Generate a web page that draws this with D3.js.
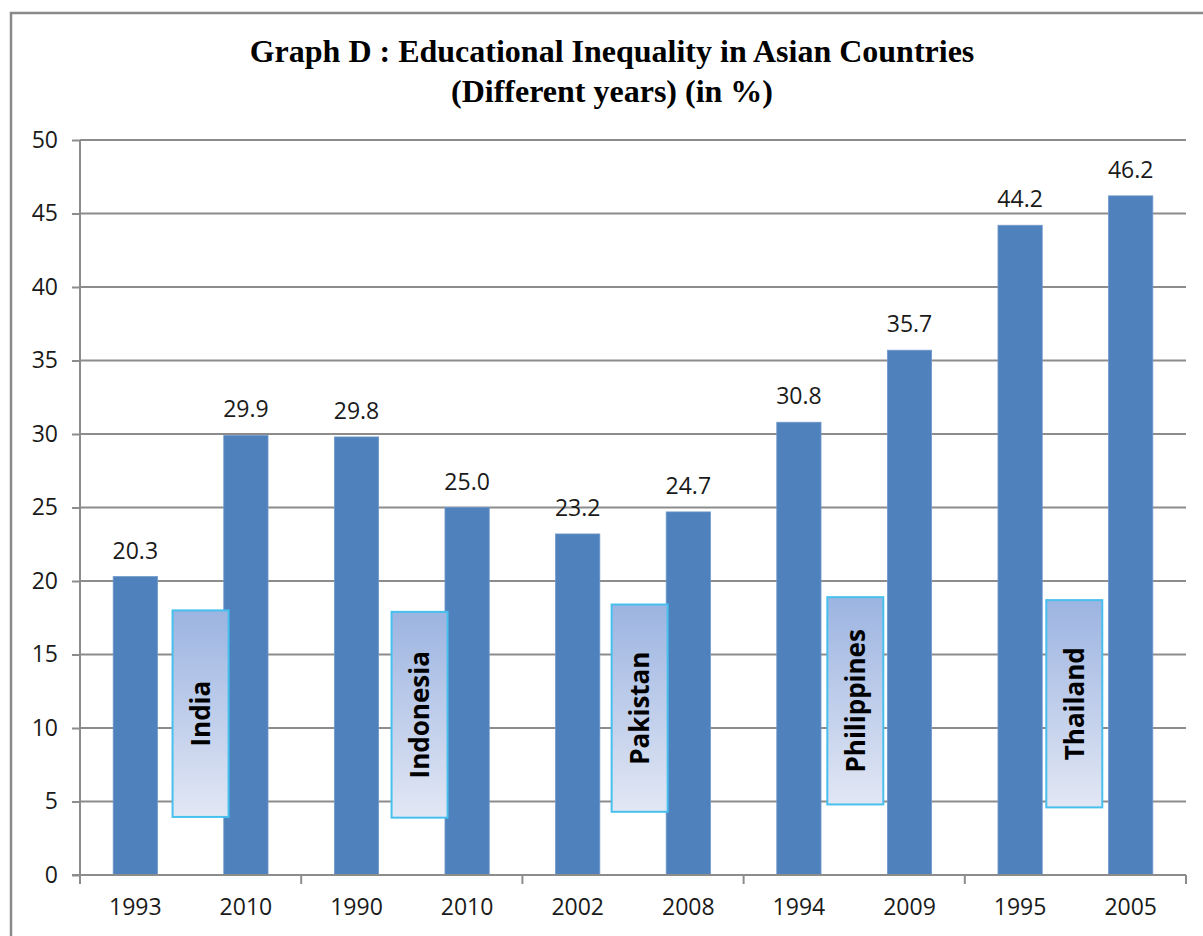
<!DOCTYPE html>
<html>
<head>
<meta charset="utf-8">
<script src="https://cdn.jsdelivr.net/npm/d3@7"></script>
<style>
  html, body { margin: 0; padding: 0; background: #fff; }
  svg { display: block; }
</style>
</head>
<body>
<svg id="chart" width="1203" height="936"></svg>
<script>
// Survey years, one bar each, two per country
const years = ["1993", "2010", "1990", "2010", "2002", "2008", "1994", "2009", "1995", "2005"];
const values = [20.3, 29.9, 29.8, 25.0, 23.2, 24.7, 30.8, 35.7, 44.2, 46.2];
const countries = ["India", "Indonesia", "Pakistan", "Philippines", "Thailand"];
// vertical extent of each country caption box, in axis units
const captionLow = [3.95, 3.9, 4.3, 4.8, 4.6];
const captionHigh = [18.0, 17.9, 18.4, 18.9, 18.7];
const yTicks = [0, 5, 10, 15, 20, 25, 30, 35, 40, 45, 50];
const titleLines = ["Graph D : Educational Inequality in Asian Countries", "(Different years) (in %)"];

// layout
const plot = { left: 80, right: 1186, top: 140, bottom: 875 };
const captionNudge = [0.09, 0.07, 0.06, 0.01, -0.01]; // fraction of a category step
const captionWidth = 56;

const svg = d3.select("#chart");
const defs = svg.append("defs");
const grad = defs.append("linearGradient")
  .attr("id", "capGrad").attr("x1", 0).attr("y1", 0).attr("x2", 0).attr("y2", 1);
grad.append("stop").attr("offset", "0%").attr("stop-color", "#9cb4e1");
grad.append("stop").attr("offset", "100%").attr("stop-color", "#e2e7f4");

// outer chart frame
svg.append("rect")
  .attr("x", 11).attr("y", 13).attr("width", 1220).attr("height", 960)
  .attr("fill", "#fff").attr("stroke", "#898989").attr("stroke-width", 2.5);

// title
svg.append("g").selectAll("text").data(titleLines).join("text")
  .attr("x", 612).attr("y", (d, i) => 62 + i * 40)
  .attr("text-anchor", "middle")
  .attr("font-family", "'Liberation Serif', 'Times New Roman', serif")
  .attr("font-weight", "bold").attr("font-size", 32).attr("fill", "#000")
  .text(d => d);

const x = d3.scaleBand()
  .domain(d3.range(values.length))
  .range([plot.left, plot.right])
  .paddingInner(0.6).paddingOuter(0.3);

const y = d3.scaleLinear().domain([0, 50]).range([plot.bottom, plot.top]);

const font = "'Open Sans', 'Noto Sans', sans-serif";
const gridColor = "#8c8c8c";

// horizontal gridlines + y axis
const yAxis = svg.append("g")
  .attr("transform", `translate(${plot.left},0)`)
  .call(d3.axisLeft(y).tickValues(yTicks).tickSize(8).tickPadding(14).tickFormat(d3.format("d")));
yAxis.select(".domain").remove();
yAxis.selectAll(".tick line").attr("stroke", gridColor).attr("stroke-width", 2);
yAxis.selectAll(".tick text")
  .attr("font-family", font).attr("font-size", 23).attr("fill", "#1a1a1a");

svg.append("g").selectAll("line").data(yTicks.filter(d => d > 0)).join("line")
  .attr("x1", plot.left).attr("x2", plot.right)
  .attr("y1", d => y(d)).attr("y2", d => y(d))
  .attr("stroke", gridColor).attr("stroke-width", 2);

// bars
svg.append("g").selectAll("rect").data(values).join("rect")
  .attr("x", (d, i) => x(i))
  .attr("y", d => y(d))
  .attr("width", x.bandwidth())
  .attr("height", d => y(0) - y(d))
  .attr("fill", "#4f81bd")
  .attr("stroke", "#6f98cb").attr("stroke-width", 0.8);

// value labels
svg.append("g").selectAll("text").data(values).join("text")
  .attr("x", (d, i) => x(i) + x.bandwidth() / 2)
  .attr("y", d => y(d) - 18)
  .attr("text-anchor", "middle")
  .attr("font-family", font).attr("font-size", 23).attr("fill", "#1a1a1a")
  .text(d => d.toFixed(1));

// country caption boxes between each pair of bars
const cap = svg.append("g").selectAll("g").data(countries).join("g")
  .attr("transform", (d, i) => {
    const cx = x(2 * i) + x.bandwidth() / 2 + x.step() * (0.5 + captionNudge[i]);
    return `translate(${cx},0)`;
  });
cap.append("rect")
  .attr("x", -captionWidth / 2)
  .attr("y", (d, i) => y(captionHigh[i]))
  .attr("width", captionWidth)
  .attr("height", (d, i) => y(captionLow[i]) - y(captionHigh[i]))
  .attr("fill", "url(#capGrad)")
  .attr("stroke", "#48c0ee").attr("stroke-width", 2);
cap.append("text")
  .attr("transform", (d, i) => `translate(0,${(y(captionLow[i]) + y(captionHigh[i])) / 2}) rotate(-90)`)
  .attr("text-anchor", "middle").attr("dy", "0.36em")
  .attr("font-family", font).attr("font-weight", "bold").attr("font-size", 26).attr("fill", "#000")
  .text(d => d);

// x axis: labels per bar, tick marks between country groups
const xAxis = svg.append("g")
  .attr("transform", `translate(0,${plot.bottom})`)
  .call(d3.axisBottom(x).tickSize(0).tickPadding(24).tickFormat(i => years[i]));
xAxis.select(".domain").remove();
xAxis.selectAll(".tick text")
  .attr("font-family", font).attr("font-size", 23).attr("fill", "#1a1a1a");

svg.append("line")
  .attr("x1", plot.left - 8).attr("x2", plot.right)
  .attr("y1", plot.bottom).attr("y2", plot.bottom)
  .attr("stroke", gridColor).attr("stroke-width", 2);
svg.append("line")
  .attr("x1", plot.left).attr("x2", plot.left)
  .attr("y1", plot.top).attr("y2", plot.bottom + 9)
  .attr("stroke", gridColor).attr("stroke-width", 2);

const groupEdges = d3.range(1, countries.length + 1).map(k => plot.left + k * x.step() * 2);
svg.append("g").selectAll("line").data(groupEdges).join("line")
  .attr("x1", d => d).attr("x2", d => d)
  .attr("y1", plot.bottom).attr("y2", plot.bottom + 9)
  .attr("stroke", gridColor).attr("stroke-width", 2);
</script>
</body>
</html>
